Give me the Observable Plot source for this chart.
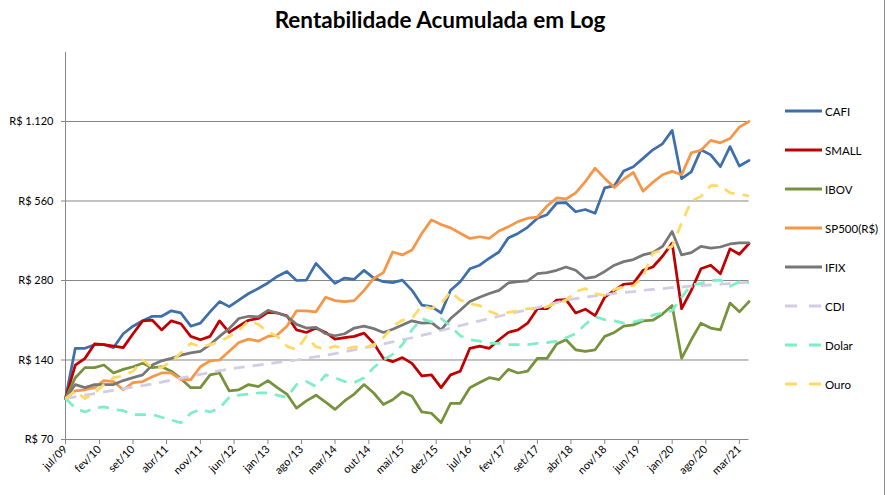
<!DOCTYPE html>
<html><head><meta charset="utf-8">
<script src="https://cdn.jsdelivr.net/npm/d3@7"></script>
<script src="https://cdn.jsdelivr.net/npm/@observablehq/plot@0.6"></script>
<style>
body{margin:0;background:#fff;}
#wrap{position:relative;width:887px;height:495px;font-family:Lato,"Open Sans",sans-serif;overflow:hidden;background:#fff;}
#title{position:absolute;left:0;top:6px;width:880px;text-align:center;font-weight:bold;font-size:22.5px;color:#000;}
#chart{position:absolute;left:0;top:0;}
#legend{position:absolute;left:785px;top:0;}
.item{position:absolute;left:0;height:14px;display:flex;align-items:center;font-size:11.5px;white-space:nowrap;color:#000;}
.item svg{margin-right:3px;}
#border{position:absolute;left:884px;top:0;width:1px;height:495px;background:#8c8c8c;}
</style></head>
<body>
<div id="wrap">
  <div id="chart"></div>
  <div id="title">Rentabilidade Acumulada em Log</div>
  <div id="legend"></div>
  <div id="border"></div>
</div>
<script>
// Monthly dates (every two months) jul/09 .. mai/21
const dates = [
 "2009-07","2009-09","2009-11",
 "2010-01","2010-03","2010-05","2010-07","2010-09","2010-11",
 "2011-01","2011-03","2011-05","2011-07","2011-09","2011-11",
 "2012-01","2012-03","2012-05","2012-07","2012-09","2012-11",
 "2013-01","2013-03","2013-05","2013-07","2013-09","2013-11",
 "2014-01","2014-03","2014-05","2014-07","2014-09","2014-11",
 "2015-01","2015-03","2015-05","2015-07","2015-09","2015-11",
 "2016-01","2016-03","2016-05","2016-07","2016-09","2016-11",
 "2017-01","2017-03","2017-05","2017-07","2017-09","2017-11",
 "2018-01","2018-03","2018-05","2018-07","2018-09","2018-11",
 "2019-01","2019-03","2019-05","2019-07","2019-09","2019-11",
 "2020-01","2020-03","2020-05","2020-07","2020-09","2020-11",
 "2021-01","2021-03","2021-05"
];

const cafi = [100,155,155,160,160,156,176,188,197,205,205,215,211,188,193,213,233,223,236,250,261,274,290,303,280,281,325,297,273,286,283,306,286,277,275,281,257,226,223,211,257,277,310,320,340,359,406,422,445,482,497,550,552,510,520,503,628,640,728,755,812,875,922,1037,680,722,875,837,755,900,760,797];
const small = [100,134,142,161,160,158,156,176,197,198,182,197,192,172,167,172,197,178,188,198,201,212,211,206,182,178,185,178,168,170,172,177,162,142,138,143,136,122,123,110,123,127,155,158,155,167,178,182,193,219,219,236,237,211,218,206,242,257,271,273,306,315,346,388,219,257,310,320,297,369,352,386];
const ibov = [100,120,131,131,134,125,129,132,136,131,132,127,119,110,110,123,125,107,108,113,111,117,110,104,92,98,103,97,91,98,104,113,105,95,99,106,102,89,88,81,96,96,110,115,120,118,129,125,127,142,142,161,167,153,151,153,172,178,188,190,197,198,209,225,142,167,193,185,182,230,213,233];
const sp500 = [100,107,108,110,117,116,108,115,116,121,125,125,118,118,132,139,140,151,163,168,165,172,174,188,215,215,213,242,235,233,235,257,285,300,359,350,365,422,475,456,443,423,404,410,404,431,447,468,482,487,536,575,570,601,663,746,682,630,678,718,610,659,704,725,704,852,872,950,930,965,1066,1120];
const ifix = [100,113,110,113,113,113,117,120,123,134,139,142,146,149,151,160,172,184,201,205,204,216,211,205,191,185,186,176,173,176,185,188,184,178,183,190,197,193,194,182,201,216,233,242,250,257,274,277,279,297,300,306,315,306,285,289,303,320,330,336,350,357,377,429,350,357,377,371,375,385,389,389];
const cdi = [100,101.5,103,104.5,106,107.5,109,110.5,112,113.5,115.5,117.5,119.5,121.5,123.5,125.5,127.5,129.5,131,132.5,134,135.5,137,138.5,140,142,144,146,148,150.5,153,155.5,158,161,164,167,170,173.5,177,181,185,189,193,197,201,205,209,213,217,221,226,231,236,239,242,245,248,250,252,254,257,259,261,263,265,266.5,268,269.5,271,272.5,274,276];
const dolar = [100,92,89,92,93,91,90,87,87,87,85,83,81,88,91,89,92,101,103,104,105,105,103,101,113,116,111,123,120,116,115,120,131,140,147,160,182,201,195,201,188,173,167,165,162,162,160,160,160,162,163,165,170,176,191,204,199,197,193,195,199,207,211,215,242,269,273,280,281,266,277,275];
const ouro = [100,107,100,105,113,120,122,127,140,131,131,138,149,162,157,160,164,172,181,197,191,179,172,158,153,172,157,154,158,154,157,156,160,170,188,198,201,225,219,229,254,236,229,225,214,207,212,215,219,219,223,229,236,254,261,250,246,259,265,267,290,356,366,377,463,560,583,640,640,601,597,584];

const seriesNames = ["CAFI","SMALL","IBOV","SP500(R$)","IFIX","CDI","Dolar","Ouro"];
const seriesValues = [cafi, small, ibov, sp500, ifix, cdi, dolar, ouro];
const seriesColors = ["#3f6fab","#c00000","#76923c","#f79646","#777777","#d3cce3","#7eeec4","#ffd966"];
const seriesDashed = [false,false,false,false,false,true,true,true];

const tickDates = ["2009-07","2010-02","2010-09","2011-04","2011-11","2012-06","2013-01","2013-08","2014-03","2014-10","2015-05","2015-12","2016-07","2017-02","2017-09","2018-04","2018-11","2019-06","2020-01","2020-08","2021-03"];
const tickLabels = ["jul/09","fev/10","set/10","abr/11","nov/11","jun/12","jan/13","ago/13","mar/14","out/14","mai/15","dez/15","jul/16","fev/17","set/17","abr/18","nov/18","jun/19","jan/20","ago/20","mar/21"];
const yTicks = [70,140,280,560,1120];

const parse = d3.utcParse("%Y-%m");
const xTicks = tickDates.map(parse);
const labelMap = new Map(xTicks.map((d,i)=>[+d, tickLabels[i]]));
const fmtY = d => "R$ " + d3.format(",")(d).replace(/,/g, ".");

const marks = [
  Plot.gridY(yTicks, {stroke:"#868686", strokeOpacity:1}),
  Plot.ruleX([parse(dates[0])], {stroke:"#868686"}),
  Plot.axisY(yTicks, {tickFormat: fmtY, tickSize:4, tickPadding:8, stroke:"#868686", fill:"#000", label:null}),
  Plot.axisX(xTicks, {tickFormat: d => labelMap.get(+d), tickRotate:-45, tickSize:5, tickPadding:3, stroke:"#868686", fill:"#000", label:null})
];
seriesNames.forEach((name, k) => {
  const rows = dates.map((d,i) => ({date: parse(d), value: seriesValues[k][i]}));
  marks.push(Plot.line(rows, {
    x:"date", y:"value", stroke: seriesColors[k], strokeWidth:2.75,
    strokeDasharray: seriesDashed[k] ? "11,8" : null,
    strokeLinejoin:"round", strokeLinecap: seriesDashed[k] ? "butt" : "round"
  }));
});

const chart = Plot.plot({
  width:887, height:495,
  marginLeft:65, marginRight:138.5, marginTop:52, marginBottom:56,
  style:{fontFamily:"Lato, 'Open Sans', sans-serif", fontSize:"11px", color:"#000", background:"transparent"},
  x:{type:"utc", domain:[parse("2009-07"), parse("2021-05")], label:null},
  y:{type:"log", base:2, domain:[70, 2044], label:null},
  marks
});
document.getElementById("chart").appendChild(chart);

// legend
const legend = document.getElementById("legend");
seriesNames.forEach((name, k) => {
  const item = document.createElement("div");
  item.className = "item";
  item.style.top = (104 + k*39) + "px";
  const dash = seriesDashed[k] ? 'stroke-dasharray="12,12"' : "";
  item.innerHTML = `<svg width="37" height="6"><line x1="0" y1="3" x2="37" y2="3" stroke="${seriesColors[k]}" stroke-width="3" ${dash}/></svg><span>${name}</span>`;
  legend.appendChild(item);
});
</script>
</body></html>
